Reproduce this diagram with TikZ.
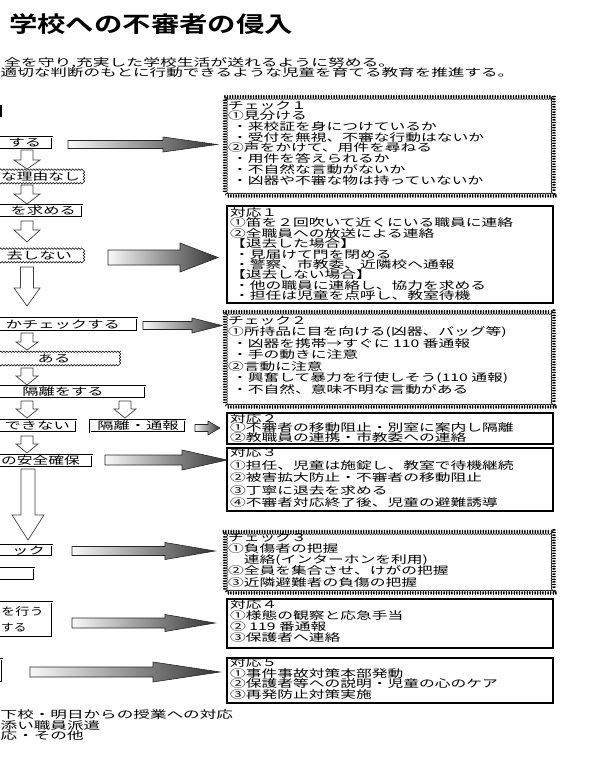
\documentclass[tikz,border=0pt]{standalone}
\usepackage{fontspec}
\usepackage{graphicx}
\setmainfont{Noto Sans CJK JP}[BoldFont={Noto Sans CJK JP Bold}]
\usetikzlibrary{decorations.pathmorphing}
\newcommand{\sx}[2][1.55]{\scalebox{#1}[1]{#2}}
\newcommand{\blk}[2]{\scalebox{1.5}[1]{\begin{minipage}[t]{210pt}\fontsize{10.5}{#1}\selectfont\lineskiplimit=-20pt\lineskip=0pt\parindent=0pt #2\end{minipage}}}
\newcommand{\bx}[6]{\node[#6, anchor=north west, minimum width={(#4)-(#2)}, minimum height={(#5)-(#3)}] (#1) at (#2,#3) {};}
% gray block arrow: x1, xtip, xhead, yc, shaft half, head half
\newcommand{\garrow}[6]{\path[draw=black!85, line width=0.6pt, left color=gray!5, right color=black!80]
  (#1,#4-#5) -- (#3,#4-#5) -- (#3,#4-#6) -- (#2,#4) -- (#3,#4+#6) -- (#3,#4+#5) -- (#1,#4+#5) -- cycle;}
% hollow down arrow: xc, ytop, ytip, yhead, shaft half, head half
\newcommand{\darrow}[6]{\draw[fill=white, draw=black!75, line width=0.7pt]
  (#1-#5,#2) -- (#1+#5,#2) -- (#1+#5,#4) -- (#1+#6,#4) -- (#1,#3) -- (#1-#6,#4) -- (#1-#5,#4) -- cycle;}
\begin{document}
\begin{tikzpicture}[x=1pt,y=-1pt,
  lbox/.style={draw, double, double distance=1pt, line width=0.5pt, inner sep=0pt},
  wbox/.style={draw, line width=0.5pt, inner sep=0pt, decorate, decoration={snake, amplitude=0.8pt, segment length=3pt}},
  cbox/.style={draw, line width=0.6pt, inner sep=0pt, decorate, decoration={coil, amplitude=2.1pt, segment length=2.6pt, aspect=0.5}},
  rbox/.style={draw, line width=2.4pt, inner sep=0pt},
  ltxt/.style={inner sep=0pt, font=\fontsize{10.5}{10.5}\selectfont},
  btxt/.style={inner sep=0pt, anchor=north west}]
\useasboundingbox (0,0) rectangle (605,765);
\fill[white] (0,0) rectangle (605,765);
\clip (0,0) rectangle (605,765);

% title and intro
\node[inner sep=0pt, anchor=west, font=\fontsize{22}{22}\selectfont\bfseries] (title) at (9,24) {\sx[1.29]{学校への不審者の侵入}};
\node[ltxt, anchor=west] (sub1) at (4,63) {\sx[1.6]{全を守り,充実した学校生活が送れるように努める。}};
\node[ltxt, anchor=west] (sub2) at (0.5,72.5) {\sx[1.58]{適切な判断のもとに行動できるような児童を育てる教育を推進する。}};
\draw[line width=2pt] (1,105) -- (1,117);

% left column boxes
\bx{b1}{-20}{137}{52}{149}{lbox}
\bx{b2}{-20}{171}{82}{183}{wbox}
\bx{b3}{-20}{205}{82}{217}{lbox}
\bx{b4}{-20}{250}{82}{262}{wbox}
\bx{b5}{-20}{318}{137}{331}{lbox}
\bx{b6}{-20}{352}{118}{365}{wbox}
\bx{b7}{-20}{386}{145}{398}{lbox}
\bx{b8}{-20}{420}{76}{432}{lbox}
\bx{b9}{90}{420}{185}{432}{lbox}
\bx{b10}{-20}{455}{92}{467}{lbox}
\bx{b11}{-20}{545}{52}{556}{lbox}
\bx{b12}{-20}{568}{34}{580}{lbox}
\bx{b13}{-20}{602}{52}{637}{lbox}
\bx{b14}{-20}{659}{2}{682}{lbox}

\node[ltxt] (t1) at (25,143) {\sx{する}};
\node[ltxt, anchor=west] (t2) at (1,177) {\sx[1.5]{な理由なし}};
\node[ltxt, anchor=east] (t3) at (76,211) {\sx{を求める}};
\node[ltxt, anchor=east] (t4) at (72,256) {\sx{去しない}};
\node[ltxt, anchor=east] (t5) at (120,324.5) {\sx{かチェックする}};
\node[ltxt] (t6) at (54,358.5) {\sx{ある}};
\node[ltxt] (t7) at (63,392) {\sx{隔離をする}};
\node[ltxt, anchor=east] (t8) at (70,426) {\sx{できない}};
\node[ltxt] (t9) at (138,426) {\sx{隔離・通報}};
\node[ltxt, anchor=west] (t10) at (1,461) {\sx[1.5]{の安全確保}};
\node[ltxt, anchor=east] (t11) at (45,550.5) {\sx{ック}};
\node[ltxt, anchor=west] (t13a) at (1,612) {\sx[1.35]{を行う}};
\node[ltxt, anchor=west] (t13b) at (1,628) {\sx[1.2]{する}};

% hollow down arrows
\darrow{27}{150}{169}{160}{6}{13}
\darrow{27}{185}{204}{194}{6}{13}
\darrow{27}{221}{242}{230}{6}{13}
\darrow{27}{267}{306}{288}{6.5}{13}
\darrow{27}{333}{350}{342}{6}{11}
\darrow{27}{368}{385}{376}{6}{11}
\darrow{27}{401}{418}{409}{6}{11}
\darrow{125}{401}{418}{409}{6}{11}
\darrow{27}{436}{453}{444}{6}{11}
\darrow{28}{469}{540}{515}{7}{16}

% right column boxes
\bx{c1}{225}{97}{553}{195}{cbox}
\bx{r1}{226}{205}{552}{302}{rbox}
\bx{c2}{225}{312}{553}{406}{cbox}
\bx{r2}{226}{411.5}{552}{443}{rbox}
\bx{r3}{226}{447}{552}{510}{rbox}
\bx{c3}{225}{532}{553}{592}{cbox}
\bx{r4}{226}{598}{552}{647}{rbox}
\bx{r5}{226}{657}{552}{702}{rbox}

\node[btxt] (c1t) at (228,100.5) {\blk{10.7}{チェック１\\①見分ける\\\hspace*{0.25em}・来校証を身につけているか\\\hspace*{0.25em}・受付を無視、不審な行動はないか\\②声をかけて、用件を尋ねる\\\hspace*{0.25em}・用件を答えられるか\\\hspace*{0.25em}・不自然な言動がないか\\\hspace*{0.25em}・凶器や不審な物は持っていないか}};
\node[btxt] (r1t) at (230,207.5) {\blk{10.4}{対応１\\①笛を２回吹いて近くにいる職員に連絡\\②全職員への放送による連絡\\【退去した場合】\\\hspace*{0.25em}・見届けて門を閉める\\\hspace*{0.25em}・警察、市教委、近隣校へ通報\\【退去しない場合】\\\hspace*{0.25em}・他の職員に連絡し、協力を求める\\\hspace*{0.25em}・担任は児童を点呼し、教室待機}};
\node[btxt] (c2t) at (228,315.5) {\blk{11.5}{チェック２\\①所持品に目を向ける(凶器、バッグ等)\\\hspace*{0.25em}・凶器を携帯→すぐに 110 番通報\\\hspace*{0.25em}・手の動きに注意\\②言動に注意\\\hspace*{0.25em}・興奮して暴力を行使しそう(110 通報)\\\hspace*{0.25em}・不自然、意味不明な言動がある}};
\node[btxt] (r2t) at (230,413) {\blk{9.8}{対応２\\①不審者の移動阻止・別室に案内し隔離\\②教職員の連携・市教委への連絡}};
\node[btxt] (r3t) at (230,447.5) {\blk{12.5}{対応３\\①担任、児童は施錠し、教室で待機継続\\②被害拡大防止・不審者の移動阻止\\③丁寧に退去を求める\\④不審者対応終了後、児童の避難誘導}};
\node[btxt] (c3t) at (228,532.5) {\blk{11.25}{チェック３\\①負傷者の把握\\\hspace*{1em}連絡(インターホンを利用)\\②全員を集合させ、けがの把握\\③近隣避難者の負傷の把握}};
\node[btxt] (r4t) at (230,599.5) {\blk{11}{対応４\\①様態の観察と応急手当\\② 119 番通報\\③保護者へ連絡}};
\node[btxt] (r5t) at (230,657.5) {\blk{10.7}{対応５\\①事件事故対策本部発動\\②保護者等への説明・児童の心のケア\\③再発防止対策実施}};

% gray block arrows
\garrow{68}{217}{163}{144.5}{4}{7.5}
\garrow{108}{218}{180}{257.5}{7.5}{14.5}
\garrow{143}{222}{192}{325.5}{4}{7.5}
\garrow{195}{220}{208}{428}{3.5}{7}
\garrow{105}{227}{182}{460}{5}{10}
\garrow{72}{215}{165}{551}{4.5}{8.5}
\garrow{72}{215}{165}{623}{5}{8.5}
\garrow{30}{220}{153}{672}{5}{10}

% bottom notes
\node[ltxt, anchor=west] (n1) at (0.5,715) {\sx[1.58]{下校・明日からの授業への対応}};
\node[ltxt, anchor=west] (n2) at (0.5,725.5) {\sx[1.58]{添い職員派遣}};
\node[ltxt, anchor=west] (n3) at (0.5,735.5) {\sx[1.58]{応・その他}};
\end{tikzpicture}
\end{document}
